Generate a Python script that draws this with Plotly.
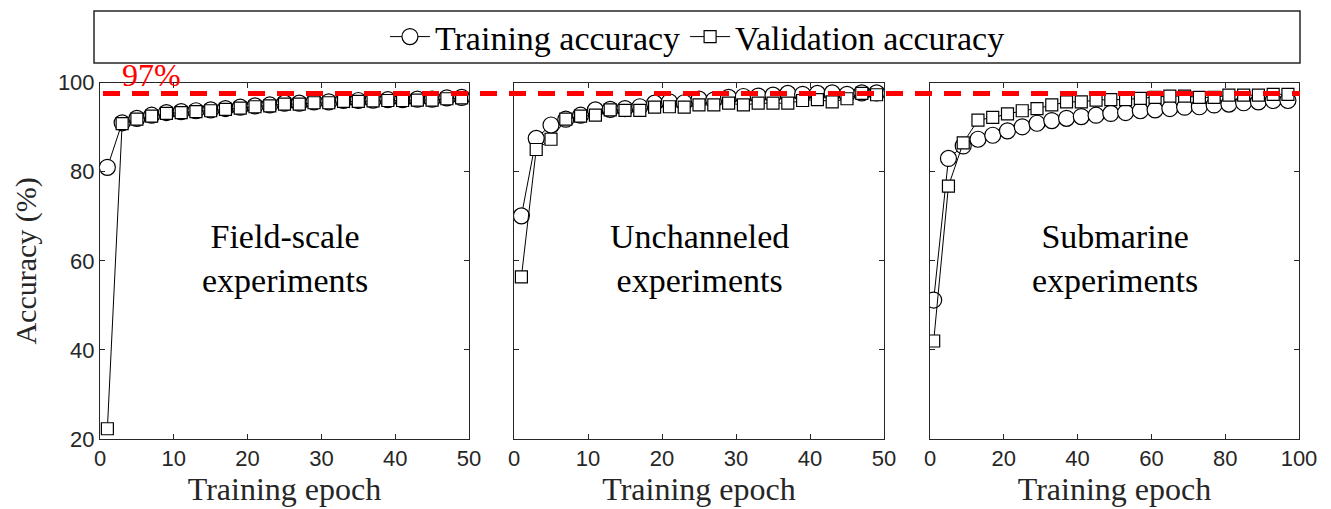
import plotly.graph_objects as go

# ---------------- data ----------------
epochs_a = list(range(1, 50, 2))      # field-scale / unchanneled: epochs 1..49 step 2
epochs_c = list(range(1, 98, 4))      # submarine: epochs 1..97 step 4

field_train = [81.0, 91.0, 92.0, 92.7, 93.3, 93.5, 93.7, 93.9, 94.2, 94.5, 94.8, 95.0, 95.4,
               95.4, 95.7, 95.7, 96.0, 96.0, 96.1, 96.2, 96.2, 96.3, 96.3, 96.6, 96.7]
field_val = [22.3, 90.8, 91.8, 92.5, 93.1, 93.3, 93.5, 93.7, 94.0, 94.3, 94.6, 94.8, 95.2,
             95.2, 95.5, 95.5, 95.8, 95.8, 95.9, 96.0, 96.0, 96.1, 96.1, 96.4, 96.6]

unch_train = [70.1, 87.5, 90.5, 91.8, 92.7, 93.9, 94.0, 94.2, 94.6, 95.4, 95.7, 95.5, 96.3,
              96.1, 96.7, 96.9, 97.0, 97.2, 97.6, 97.4, 97.6, 97.7, 97.4, 97.7, 97.7]
unch_val = [56.4, 85.0, 87.3, 91.8, 92.5, 92.7, 93.9, 93.8, 93.8, 94.5, 94.6, 94.5, 95.0,
            95.0, 95.4, 95.0, 95.4, 95.4, 95.4, 96.0, 96.2, 95.7, 96.4, 97.6, 97.3]

sub_train = [51.2, 83.0, 85.8, 87.3, 88.2, 89.2, 90.1, 90.9, 91.5, 92.0, 92.4, 92.7, 93.1,
             93.3, 93.7, 93.9, 94.2, 94.5, 94.6, 95.0, 95.2, 95.5, 95.7, 96.0, 96.0]
sub_val = [42.0, 76.8, 86.5, 91.6, 92.2, 93.0, 93.7, 94.2, 95.0, 95.7, 95.7, 96.1, 96.2,
           96.2, 96.5, 96.7, 97.0, 97.0, 96.7, 96.7, 97.2, 97.2, 97.2, 97.4, 97.4]

threshold = 97.6
threshold_label = "97%"
panel_labels = ["Field-scale<br>experiments", "Unchanneled<br>experiments", "Submarine<br>experiments"]
x_ranges = [[0, 50], [0, 50], [0, 100]]
x_ticks = [[0, 10, 20, 30, 40, 50], [0, 10, 20, 30, 40, 50], [0, 20, 40, 60, 80, 100]]
y_ticks = [20, 40, 60, 80, 100]

# ---------------- figure ----------------
W, H = 1331, 509
SERIF = "Liberation Serif"
SANS = "Liberation Sans"
AX = "#262626"

fig = go.Figure()

panels = [
    (epochs_a, field_train, field_val),
    (epochs_a, unch_train, unch_val),
    (epochs_c, sub_train, sub_val),
]
for i, (ep, tr, va) in enumerate(panels):
    xa = "x" if i == 0 else f"x{i+1}"
    ya = "y" if i == 0 else f"y{i+1}"
    fig.add_trace(go.Scatter(
        x=ep, y=tr, mode="lines+markers", name="Training accuracy",
        xaxis=xa, yaxis=ya, showlegend=(i == 0),
        line=dict(color="black", width=1),
        marker=dict(symbol="circle", size=16, color="white",
                    line=dict(color="black", width=1.2)),
    ))
    fig.add_trace(go.Scatter(
        x=ep, y=va, mode="lines+markers", name="Validation accuracy",
        xaxis=xa, yaxis=ya, showlegend=(i == 0),
        line=dict(color="black", width=1),
        marker=dict(symbol="square", size=12, color="white",
                    line=dict(color="black", width=1.2)),
    ))

domains = [[100 / W, 469 / W], [514 / W, 884 / W], [930 / W, 1299 / W]]
ydom = [1 - 439 / H, 1 - 82.7 / H]

axis_common = dict(
    showline=True, linecolor=AX, linewidth=1, mirror="ticks",
    ticks="inside", ticklen=5, tickcolor=AX, tickwidth=1,
    showgrid=False, zeroline=False, automargin=False,
    tickfont=dict(family=SANS, size=22, color=AX),
)

layout = dict(
    width=W, height=H,
    margin=dict(l=0, r=0, t=0, b=0, autoexpand=False),
    paper_bgcolor="white", plot_bgcolor="white",
    showlegend=True,
    legend=dict(
        orientation="h", x=0.524, xanchor="center", y=1 - 37 / H, yanchor="middle",
        font=dict(family=SERIF, size=34, color="black"),
        bgcolor="rgba(0,0,0,0)", borderwidth=0, itemwidth=40,
    ),
)

for i in range(3):
    sfx = "" if i == 0 else str(i + 1)
    layout["xaxis" + sfx] = dict(
        axis_common, domain=domains[i], range=x_ranges[i],
        tickvals=x_ticks[i], anchor="y" + sfx,
        title=dict(text="Training epoch", font=dict(family=SERIF, size=32, color=AX), standoff=4),
    )
    ya = dict(
        axis_common, domain=ydom, range=[20, 100], tickvals=y_ticks,
        anchor="x" + sfx, showticklabels=(i == 0),
    )
    if i == 0:
        ya["title"] = dict(text="Accuracy (%)", font=dict(family=SERIF, size=30, color=AX), standoff=12)
    layout["yaxis" + sfx] = ya

fig.update_layout(**layout)

# legend frame
fig.add_shape(type="rect", xref="paper", yref="paper",
              x0=94 / W, x1=1300 / W, y0=1 - 63 / H, y1=1 - 11 / H,
              line=dict(color=AX, width=1.5), fillcolor="rgba(0,0,0,0)")

# 97 % threshold line spanning all panels
fig.add_shape(type="line", xref="paper", yref="y",
              x0=103 / W, x1=1300 / W, y0=threshold, y1=threshold,
              line=dict(color="#ff0000", width=5, dash="17px,12px"), layer="above")

fig.add_annotation(x=7, y=1 - 75.5 / H, xref="x", yref="paper", text=threshold_label,
                   showarrow=False, xanchor="center", yanchor="middle",
                   font=dict(family=SERIF, size=32, color="#ff0000"))

centers = [(25, 60.6), (25, 60.6), (50, 60.6)]
for i, (lbl, (cx, cy)) in enumerate(zip(panel_labels, centers)):
    sfx = "" if i == 0 else str(i + 1)
    fig.add_annotation(x=cx, y=cy, xref="x" + sfx, yref="y" + sfx, text=lbl,
                       showarrow=False, xanchor="center", yanchor="middle",
                       font=dict(family=SERIF, size=34, color="black"))

fig.write_html("out.html")
